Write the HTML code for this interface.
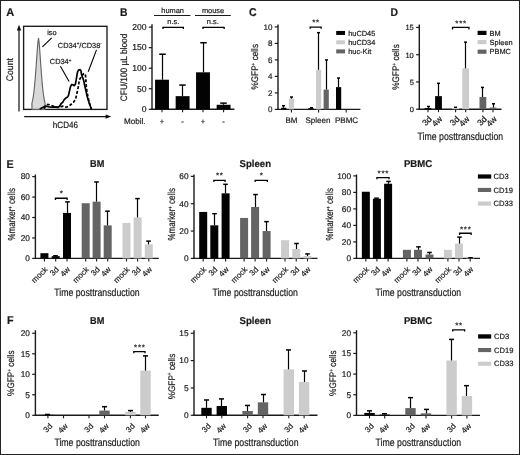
<!DOCTYPE html>
<html><head><meta charset="utf-8"><style>
html,body{margin:0;padding:0;background:#fff;}
svg{display:block;font-family:"Liberation Sans", sans-serif;will-change:transform;-webkit-font-smoothing:antialiased;text-rendering:geometricPrecision;}
text{stroke:#1c1c1c;stroke-width:0.2px;}
</style></head><body>
<svg width="520" height="455" viewBox="0 0 520 455">
<rect x="0" y="0" width="520" height="455" fill="#fff"/>
<text x="6.3" y="15.9" font-size="11.3" text-anchor="start" font-weight="bold" fill="#1c1c1c" textLength="8.0" lengthAdjust="spacingAndGlyphs" >A</text>
<rect x="23.6" y="26.3" width="83.4" height="83.1" fill="none" stroke="#1a1a1a" stroke-width="1.35"/>
<path d="M32.00 109.30 L31.90 103.20 L32.12 102.38 L32.34 101.47 L32.56 100.47 L32.78 99.36 L33.00 98.14 L33.22 96.80 L33.44 95.33 L33.66 93.74 L33.88 92.01 L34.10 90.13 L34.32 88.12 L34.54 85.96 L34.76 83.65 L34.98 81.20 L35.20 78.62 L35.42 75.89 L35.64 73.05 L35.86 70.10 L36.08 67.06 L36.30 63.94 L36.52 60.79 L36.74 57.62 L36.96 54.47 L37.18 51.39 L37.40 48.43 L37.62 45.66 L37.84 43.13 L38.06 40.97 L38.28 39.29 L38.50 38.40 L38.72 39.29 L38.94 40.97 L39.16 43.13 L39.38 45.66 L39.60 48.43 L39.82 51.39 L40.04 54.47 L40.26 57.62 L40.48 60.79 L40.70 63.94 L40.92 67.06 L41.14 70.10 L41.36 73.05 L41.58 75.89 L41.80 78.62 L42.02 81.20 L42.24 83.65 L42.46 85.96 L42.68 88.12 L42.90 90.13 L43.12 92.01 L43.34 93.74 L43.56 95.33 L43.78 96.80 L44.00 98.14 L44.22 99.36 L44.44 100.47 L44.66 101.47 L44.88 102.38 L45.10 103.20 L45.00 109.30 Z" fill="#d9d9d9" stroke="#666" stroke-width="1.15" stroke-linejoin="round"/>
<path d="M39.7 109.1 L43.7 107.1 L45.8 106.1 L48.5 106.8 L52.5 107.1 L55 106.9 L58.1 107.3 L59.6 106.2 L61.2 103.5 L62.7 102.3 L64.2 99.6 L65.8 98.1 L67.3 97.3 L68.5 95.4 L69.2 92.3 L70.5 86.6 L71.7 84.5 L72.9 84.8 L74.2 85.7 L75.4 84.2 L76.6 77.4 L77.5 72.2 L78.5 70 L80 69.7 L80.9 70.6 L81.5 74.3 L82.5 77.4 L83.7 80.5 L84.6 85 L86 91 L87.3 97 L89.2 103.1 L91.2 108.5 L91.5 109.1" fill="none" stroke="#000" stroke-width="1.7" stroke-linejoin="round"/>
<path d="M44 108.6 L45.1 106.4 L47.8 104.4 L49.8 104.8 L51.2 105.4 L53.8 106.4 L55.9 107.1 L58.6 107.4 L62.7 106.2 L65 107.3 L67.3 106.9 L70.4 105 L73.5 102.3 L75.4 99.6 L76.5 95.4 L77.3 91.5 L78.2 87.2 L79.4 79.8 L81.2 76.8 L83.4 74 L84.6 73.4 L85.5 75.2 L85.8 79.2 L86.2 85.4 L86.7 90 L87.7 95.4 L88.8 100.8 L90.4 106.2 L91.3 108.8" fill="none" stroke="#000" stroke-width="1.7" stroke-dasharray="3 1.8"/>
<line x1="42.4" y1="46.9" x2="51.7" y2="37.9" stroke="#000" stroke-width="1.1" />
<line x1="96.5" y1="49.9" x2="88.2" y2="71.7" stroke="#000" stroke-width="1.1" />
<line x1="60.4" y1="66.3" x2="69.1" y2="81.6" stroke="#000" stroke-width="1.1" />
<text x="47.2" y="35.3" font-size="7.4" text-anchor="start" font-weight="normal" fill="#1c1c1c" >iso</text>
<text x="57.8" y="47.8" font-size="7.4" fill="#1c1c1c">CD34<tspan font-size="4.5" dy="-2.8">+</tspan><tspan dy="2.8">/CD38</tspan><tspan font-size="4.5" dy="-2.8">-</tspan></text>
<text x="49.8" y="64.3" font-size="7.4" fill="#1c1c1c">CD34<tspan font-size="4.5" dy="-2.8">+</tspan></text>
<line x1="19" y1="111.5" x2="19" y2="29" stroke="#222" stroke-width="1.3" />
<path d="M19 24.8 L16.8 30.5 L21.2 30.5 Z" fill="#111"/>
<line x1="24.2" y1="116.6" x2="107" y2="116.6" stroke="#111" stroke-width="1.25" />
<path d="M111.3 116.6 L105.6 114.4 L105.6 118.8 Z" fill="#111"/>
<text transform="translate(13.3 69.7) rotate(-90)" font-size="9.6" text-anchor="middle" fill="#1c1c1c" textLength="23.3" lengthAdjust="spacingAndGlyphs" >Count</text>
<text x="52.8" y="128.3" font-size="9.0" text-anchor="start" font-weight="normal" fill="#1c1c1c" textLength="25.2" lengthAdjust="spacingAndGlyphs" >hCD46</text>
<text x="120" y="15.9" font-size="11.3" text-anchor="start" font-weight="bold" fill="#1c1c1c" textLength="7.5" lengthAdjust="spacingAndGlyphs" >B</text>
<line x1="152" y1="24.3" x2="152" y2="109.89999999999999" stroke="#1a1a1a" stroke-width="1.4" />
<line x1="148.8" y1="109.3" x2="152" y2="109.3" stroke="#1a1a1a" stroke-width="1.2" />
<text x="146.5" y="112.1" font-size="8.6" text-anchor="end" font-weight="normal" fill="#1c1c1c" >0</text>
<line x1="148.8" y1="88.75" x2="152" y2="88.75" stroke="#1a1a1a" stroke-width="1.2" />
<text x="146.5" y="91.55" font-size="8.6" text-anchor="end" font-weight="normal" fill="#1c1c1c" >50</text>
<line x1="148.8" y1="68.2" x2="152" y2="68.2" stroke="#1a1a1a" stroke-width="1.2" />
<text x="146.5" y="71.0" font-size="8.6" text-anchor="end" font-weight="normal" fill="#1c1c1c" >100</text>
<line x1="148.8" y1="47.65" x2="152" y2="47.65" stroke="#1a1a1a" stroke-width="1.2" />
<text x="146.5" y="50.449999999999996" font-size="8.6" text-anchor="end" font-weight="normal" fill="#1c1c1c" >150</text>
<line x1="148.8" y1="27.10000000000001" x2="152" y2="27.10000000000001" stroke="#1a1a1a" stroke-width="1.2" />
<text x="146.5" y="29.90000000000001" font-size="8.6" text-anchor="end" font-weight="normal" fill="#1c1c1c" >200</text>
<line x1="151.3" y1="109.3" x2="234.4" y2="109.3" stroke="#1a1a1a" stroke-width="1.4" />
<line x1="162" y1="109.3" x2="162" y2="112.3" stroke="#1a1a1a" stroke-width="1.1" />
<line x1="182.6" y1="109.3" x2="182.6" y2="112.3" stroke="#1a1a1a" stroke-width="1.1" />
<line x1="203" y1="109.3" x2="203" y2="112.3" stroke="#1a1a1a" stroke-width="1.1" />
<line x1="223.6" y1="109.3" x2="223.6" y2="112.3" stroke="#1a1a1a" stroke-width="1.1" />
<rect x="155.05" y="79.71" width="13.90" height="29.59" fill="#030303"/>
<line x1="162.5" y1="79.708" x2="162.5" y2="54.226" stroke="#030303" stroke-width="1.2" />
<line x1="159.25" y1="54.226" x2="165.75" y2="54.226" stroke="#030303" stroke-width="1.5" />
<rect x="175.65" y="96.15" width="13.90" height="13.15" fill="#030303"/>
<line x1="182.5" y1="96.148" x2="182.5" y2="85.051" stroke="#030303" stroke-width="1.2" />
<line x1="179.25" y1="85.051" x2="185.75" y2="85.051" stroke="#030303" stroke-width="1.5" />
<rect x="196.05" y="72.31" width="13.90" height="36.99" fill="#030303"/>
<line x1="203.5" y1="72.31" x2="203.5" y2="42.718" stroke="#030303" stroke-width="1.2" />
<line x1="200.25" y1="42.718" x2="206.75" y2="42.718" stroke="#030303" stroke-width="1.5" />
<rect x="216.65" y="104.78" width="13.90" height="4.52" fill="#030303"/>
<line x1="223.5" y1="104.779" x2="223.5" y2="103.13499999999999" stroke="#030303" stroke-width="1.2" />
<line x1="220.25" y1="103.13499999999999" x2="226.75" y2="103.13499999999999" stroke="#030303" stroke-width="1.5" />
<line x1="154" y1="15.5" x2="190.4" y2="15.5" stroke="#1a1a1a" stroke-width="1.1" />
<line x1="195" y1="15.5" x2="230.8" y2="15.5" stroke="#1a1a1a" stroke-width="1.1" />
<text x="172.6" y="12.9" font-size="7.4" text-anchor="middle" font-weight="normal" fill="#1c1c1c" >human</text>
<text x="213" y="12.9" font-size="7.4" text-anchor="middle" font-weight="normal" fill="#1c1c1c" >mouse</text>
<text x="173.3" y="23.6" font-size="7.4" text-anchor="middle" font-weight="normal" fill="#1c1c1c" >n.s.</text>
<text x="212.8" y="23.6" font-size="7.4" text-anchor="middle" font-weight="normal" fill="#1c1c1c" >n.s.</text>
<path d="M162.95 29.10 V27.35 H183.35 V29.10" fill="none" stroke="#030303" stroke-width="1.3"/>
<path d="M202.95 29.10 V27.35 H224.15 V29.10" fill="none" stroke="#030303" stroke-width="1.3"/>
<text transform="translate(127.2 67.4) rotate(-90)" font-size="9.4" text-anchor="middle" fill="#1c1c1c" textLength="67.6" lengthAdjust="spacingAndGlyphs" >CFU/100 µL blood</text>
<text x="124" y="124.2" font-size="8.1" text-anchor="start" font-weight="normal" fill="#1c1c1c" >Mobil.</text>
<text x="162" y="124" font-size="7.5" text-anchor="middle" font-weight="normal" fill="#1c1c1c" >+</text>
<text x="182.6" y="124" font-size="7.5" text-anchor="middle" font-weight="normal" fill="#1c1c1c" >-</text>
<text x="203" y="124" font-size="7.5" text-anchor="middle" font-weight="normal" fill="#1c1c1c" >+</text>
<text x="223.6" y="124" font-size="7.5" text-anchor="middle" font-weight="normal" fill="#1c1c1c" >-</text>
<text x="249" y="15.9" font-size="11.3" text-anchor="start" font-weight="bold" fill="#1c1c1c" textLength="7.6" lengthAdjust="spacingAndGlyphs" >C</text>
<line x1="278" y1="24.5" x2="278" y2="110.0" stroke="#1a1a1a" stroke-width="1.4" />
<line x1="274.8" y1="109.4" x2="278" y2="109.4" stroke="#1a1a1a" stroke-width="1.2" />
<text x="272.5" y="112.2" font-size="8" text-anchor="end" font-weight="normal" fill="#1c1c1c" >0</text>
<line x1="274.8" y1="92.9" x2="278" y2="92.9" stroke="#1a1a1a" stroke-width="1.2" />
<text x="272.5" y="95.7" font-size="8" text-anchor="end" font-weight="normal" fill="#1c1c1c" >2</text>
<line x1="274.8" y1="76.4" x2="278" y2="76.4" stroke="#1a1a1a" stroke-width="1.2" />
<text x="272.5" y="79.2" font-size="8" text-anchor="end" font-weight="normal" fill="#1c1c1c" >4</text>
<line x1="274.8" y1="59.900000000000006" x2="278" y2="59.900000000000006" stroke="#1a1a1a" stroke-width="1.2" />
<text x="272.5" y="62.7" font-size="8" text-anchor="end" font-weight="normal" fill="#1c1c1c" >6</text>
<line x1="274.8" y1="43.400000000000006" x2="278" y2="43.400000000000006" stroke="#1a1a1a" stroke-width="1.2" />
<text x="272.5" y="46.2" font-size="8" text-anchor="end" font-weight="normal" fill="#1c1c1c" >8</text>
<line x1="274.8" y1="26.900000000000006" x2="278" y2="26.900000000000006" stroke="#1a1a1a" stroke-width="1.2" />
<text x="272.5" y="29.700000000000006" font-size="8" text-anchor="end" font-weight="normal" fill="#1c1c1c" >10</text>
<line x1="277.3" y1="109.4" x2="360.4" y2="109.4" stroke="#1a1a1a" stroke-width="1.4" />
<line x1="291.4" y1="109.4" x2="291.4" y2="112.4" stroke="#1a1a1a" stroke-width="1.1" />
<line x1="318.6" y1="109.4" x2="318.6" y2="112.4" stroke="#1a1a1a" stroke-width="1.1" />
<line x1="346.2" y1="109.4" x2="346.2" y2="112.4" stroke="#1a1a1a" stroke-width="1.1" />
<rect x="281.20" y="107.75" width="5.20" height="1.65" fill="#030303"/>
<line x1="283.5" y1="107.75" x2="283.5" y2="105.6875" stroke="#030303" stroke-width="1.2" />
<line x1="282.0" y1="105.6875" x2="285.0" y2="105.6875" stroke="#030303" stroke-width="1.5" />
<rect x="288.80" y="98.68" width="5.20" height="10.72" fill="#cccccc"/>
<line x1="291.5" y1="98.67500000000001" x2="291.5" y2="97.025" stroke="#030303" stroke-width="1.2" />
<line x1="290.0" y1="97.025" x2="293.0" y2="97.025" stroke="#030303" stroke-width="1.5" />
<rect x="308.40" y="108.16" width="5.20" height="1.24" fill="#030303"/>
<line x1="311.5" y1="108.16250000000001" x2="311.5" y2="107.75" stroke="#030303" stroke-width="1.2" />
<line x1="310.0" y1="107.75" x2="313.0" y2="107.75" stroke="#030303" stroke-width="1.5" />
<rect x="316.00" y="69.80" width="5.20" height="39.60" fill="#cccccc"/>
<line x1="318.5" y1="69.80000000000001" x2="318.5" y2="32.675" stroke="#030303" stroke-width="1.2" />
<line x1="317.0" y1="32.675" x2="320.0" y2="32.675" stroke="#030303" stroke-width="1.5" />
<rect x="323.60" y="89.60" width="5.20" height="19.80" fill="#646464"/>
<line x1="326.5" y1="89.60000000000001" x2="326.5" y2="59.900000000000006" stroke="#030303" stroke-width="1.2" />
<line x1="325.0" y1="59.900000000000006" x2="328.0" y2="59.900000000000006" stroke="#030303" stroke-width="1.5" />
<rect x="336.00" y="87.12" width="5.20" height="22.28" fill="#030303"/>
<line x1="338.5" y1="87.125" x2="338.5" y2="78.05000000000001" stroke="#030303" stroke-width="1.2" />
<line x1="337.0" y1="78.05000000000001" x2="340.0" y2="78.05000000000001" stroke="#030303" stroke-width="1.5" />
<path d="M310.15 28.80 V27.15 H321.15 V28.80" fill="none" stroke="#030303" stroke-width="1.3"/>
<text x="313.72" y="25.10" font-size="8" text-anchor="middle" fill="#1c1c1c">*</text>
<text x="317.57" y="25.10" font-size="8" text-anchor="middle" fill="#1c1c1c">*</text>
<text transform="translate(257.9 89.55) rotate(-90)" font-size="9.6" fill="#1c1c1c" textLength="45.6" lengthAdjust="spacingAndGlyphs">%GFP<tspan font-size="5.5" dy="-3.2">+</tspan><tspan dy="3.2"> cells</tspan></text>
<text x="285.4" y="123.4" font-size="8" text-anchor="start" font-weight="normal" fill="#1c1c1c" >BM</text>
<text x="305.5" y="123.4" font-size="8" text-anchor="start" font-weight="normal" fill="#1c1c1c" >Spleen</text>
<text x="335" y="123.4" font-size="8" text-anchor="start" font-weight="normal" fill="#1c1c1c" >PBMC</text>
<rect x="336.20" y="30.95" width="8.80" height="4.00" fill="#030303"/>
<text x="348.2" y="35.650000000000006" font-size="7.4" text-anchor="start" font-weight="normal" fill="#1c1c1c" >huCD45</text>
<rect x="336.20" y="40.30" width="8.80" height="4.00" fill="#cccccc"/>
<text x="348.2" y="45.0" font-size="7.4" text-anchor="start" font-weight="normal" fill="#1c1c1c" >huCD34</text>
<rect x="336.20" y="49.40" width="8.80" height="4.00" fill="#646464"/>
<text x="348.2" y="54.1" font-size="7.4" text-anchor="start" font-weight="normal" fill="#1c1c1c" >huc-Kit</text>
<text x="390.6" y="15.9" font-size="11.3" text-anchor="start" font-weight="bold" fill="#1c1c1c" textLength="7.5" lengthAdjust="spacingAndGlyphs" >D</text>
<line x1="419.3" y1="24.5" x2="419.3" y2="109.8" stroke="#1a1a1a" stroke-width="1.4" />
<line x1="416.1" y1="109.2" x2="419.3" y2="109.2" stroke="#1a1a1a" stroke-width="1.2" />
<text x="413.8" y="112.0" font-size="7.5" text-anchor="end" font-weight="normal" fill="#1c1c1c" >0</text>
<line x1="416.1" y1="81.95" x2="419.3" y2="81.95" stroke="#1a1a1a" stroke-width="1.2" />
<text x="413.8" y="84.75" font-size="7.5" text-anchor="end" font-weight="normal" fill="#1c1c1c" >5</text>
<line x1="416.1" y1="54.7" x2="419.3" y2="54.7" stroke="#1a1a1a" stroke-width="1.2" />
<text x="413.8" y="57.5" font-size="7.5" text-anchor="end" font-weight="normal" fill="#1c1c1c" >10</text>
<line x1="416.1" y1="27.450000000000003" x2="419.3" y2="27.450000000000003" stroke="#1a1a1a" stroke-width="1.2" />
<text x="413.8" y="30.250000000000004" font-size="7.5" text-anchor="end" font-weight="normal" fill="#1c1c1c" >15</text>
<line x1="418.6" y1="109.2" x2="501.5" y2="109.2" stroke="#1a1a1a" stroke-width="1.4" />
<line x1="428" y1="109.2" x2="428" y2="112.2" stroke="#1a1a1a" stroke-width="1.1" />
<line x1="438.5" y1="109.2" x2="438.5" y2="112.2" stroke="#1a1a1a" stroke-width="1.1" />
<line x1="455.6" y1="109.2" x2="455.6" y2="112.2" stroke="#1a1a1a" stroke-width="1.1" />
<line x1="465.7" y1="109.2" x2="465.7" y2="112.2" stroke="#1a1a1a" stroke-width="1.1" />
<line x1="482.9" y1="109.2" x2="482.9" y2="112.2" stroke="#1a1a1a" stroke-width="1.1" />
<line x1="493" y1="109.2" x2="493" y2="112.2" stroke="#1a1a1a" stroke-width="1.1" />
<rect x="424.60" y="108.11" width="6.80" height="1.09" fill="#030303"/>
<line x1="428.5" y1="108.11" x2="428.5" y2="106.47500000000001" stroke="#030303" stroke-width="1.2" />
<line x1="427.0" y1="106.47500000000001" x2="430.0" y2="106.47500000000001" stroke="#030303" stroke-width="1.5" />
<rect x="435.10" y="96.12" width="6.80" height="13.08" fill="#030303"/>
<line x1="438.5" y1="96.12" x2="438.5" y2="83.3125" stroke="#030303" stroke-width="1.2" />
<line x1="437.0" y1="83.3125" x2="440.0" y2="83.3125" stroke="#030303" stroke-width="1.5" />
<rect x="452.20" y="107.84" width="6.80" height="1.36" fill="#cccccc"/>
<line x1="455.5" y1="107.8375" x2="455.5" y2="107.2925" stroke="#030303" stroke-width="1.2" />
<line x1="454.0" y1="107.2925" x2="457.0" y2="107.2925" stroke="#030303" stroke-width="1.5" />
<rect x="462.30" y="68.33" width="6.80" height="40.88" fill="#cccccc"/>
<line x1="465.5" y1="68.325" x2="465.5" y2="42.16499999999999" stroke="#030303" stroke-width="1.2" />
<line x1="464.0" y1="42.16499999999999" x2="467.0" y2="42.16499999999999" stroke="#030303" stroke-width="1.5" />
<rect x="479.50" y="96.94" width="6.80" height="12.26" fill="#646464"/>
<line x1="482.5" y1="96.9375" x2="482.5" y2="87.4" stroke="#030303" stroke-width="1.2" />
<line x1="481.0" y1="87.4" x2="484.0" y2="87.4" stroke="#030303" stroke-width="1.5" />
<rect x="489.60" y="107.56" width="6.80" height="1.64" fill="#646464"/>
<line x1="493.5" y1="107.565" x2="493.5" y2="103.75" stroke="#030303" stroke-width="1.2" />
<line x1="492.0" y1="103.75" x2="495.0" y2="103.75" stroke="#030303" stroke-width="1.5" />
<path d="M452.55 29.40 V27.45 H468.95 V29.40" fill="none" stroke="#030303" stroke-width="1.3"/>
<text x="456.90" y="26.10" font-size="8" text-anchor="middle" fill="#1c1c1c">*</text>
<text x="460.75" y="26.10" font-size="8" text-anchor="middle" fill="#1c1c1c">*</text>
<text x="464.60" y="26.10" font-size="8" text-anchor="middle" fill="#1c1c1c">*</text>
<text transform="translate(399.1 89.80) rotate(-90)" font-size="9.6" fill="#1c1c1c" textLength="45.6" lengthAdjust="spacingAndGlyphs">%GFP<tspan font-size="5.5" dy="-3.2">+</tspan><tspan dy="3.2"> cells</tspan></text>
<rect x="477.60" y="30.80" width="8.90" height="4.20" fill="#030303"/>
<text x="489.6" y="35.6" font-size="7.4" text-anchor="start" font-weight="normal" fill="#1c1c1c" >BM</text>
<rect x="477.60" y="40.00" width="8.90" height="4.20" fill="#cccccc"/>
<text x="489.6" y="44.800000000000004" font-size="7.4" text-anchor="start" font-weight="normal" fill="#1c1c1c" >Spleen</text>
<rect x="477.60" y="49.60" width="8.90" height="4.20" fill="#646464"/>
<text x="489.6" y="54.400000000000006" font-size="7.4" text-anchor="start" font-weight="normal" fill="#1c1c1c" >PBMC</text>
<text transform="translate(432.5 119.5) rotate(-45)" font-size="8.6" text-anchor="end" fill="#1c1c1c" >3d</text>
<text transform="translate(443.0 119.5) rotate(-45)" font-size="8.6" text-anchor="end" fill="#1c1c1c" >4w</text>
<text transform="translate(460.1 119.5) rotate(-45)" font-size="8.6" text-anchor="end" fill="#1c1c1c" >3d</text>
<text transform="translate(470.2 119.5) rotate(-45)" font-size="8.6" text-anchor="end" fill="#1c1c1c" >4w</text>
<text transform="translate(487.4 119.5) rotate(-45)" font-size="8.6" text-anchor="end" fill="#1c1c1c" >3d</text>
<text transform="translate(497.5 119.5) rotate(-45)" font-size="8.6" text-anchor="end" fill="#1c1c1c" >4w</text>
<text x="417.6" y="139.6" font-size="10.6" fill="#1c1c1c" textLength="85.5" lengthAdjust="spacingAndGlyphs">Time posttransduction</text>
<text x="6.6" y="167.8" font-size="11.3" text-anchor="start" font-weight="bold" fill="#1c1c1c" textLength="7.2" lengthAdjust="spacingAndGlyphs" >E</text>
<line x1="35.4" y1="174.5" x2="35.4" y2="259.0" stroke="#1a1a1a" stroke-width="1.4" />
<line x1="32.199999999999996" y1="258.4" x2="35.4" y2="258.4" stroke="#1a1a1a" stroke-width="1.2" />
<text x="29.9" y="261.2" font-size="8.3" text-anchor="end" font-weight="normal" fill="#1c1c1c" >0</text>
<line x1="32.199999999999996" y1="237.95999999999998" x2="35.4" y2="237.95999999999998" stroke="#1a1a1a" stroke-width="1.2" />
<text x="29.9" y="240.76" font-size="8.3" text-anchor="end" font-weight="normal" fill="#1c1c1c" >20</text>
<line x1="32.199999999999996" y1="217.51999999999998" x2="35.4" y2="217.51999999999998" stroke="#1a1a1a" stroke-width="1.2" />
<text x="29.9" y="220.32" font-size="8.3" text-anchor="end" font-weight="normal" fill="#1c1c1c" >40</text>
<line x1="32.199999999999996" y1="197.07999999999998" x2="35.4" y2="197.07999999999998" stroke="#1a1a1a" stroke-width="1.2" />
<text x="29.9" y="199.88" font-size="8.3" text-anchor="end" font-weight="normal" fill="#1c1c1c" >60</text>
<line x1="32.199999999999996" y1="176.64" x2="35.4" y2="176.64" stroke="#1a1a1a" stroke-width="1.2" />
<text x="29.9" y="179.44" font-size="8.3" text-anchor="end" font-weight="normal" fill="#1c1c1c" >80</text>
<line x1="34.699999999999996" y1="258.4" x2="158.75" y2="258.4" stroke="#1a1a1a" stroke-width="1.4" />
<line x1="44.4" y1="258.4" x2="44.4" y2="261.4" stroke="#1a1a1a" stroke-width="1.1" />
<line x1="55.7" y1="258.4" x2="55.7" y2="261.4" stroke="#1a1a1a" stroke-width="1.1" />
<line x1="67" y1="258.4" x2="67" y2="261.4" stroke="#1a1a1a" stroke-width="1.1" />
<line x1="85.7" y1="258.4" x2="85.7" y2="261.4" stroke="#1a1a1a" stroke-width="1.1" />
<line x1="96.6" y1="258.4" x2="96.6" y2="261.4" stroke="#1a1a1a" stroke-width="1.1" />
<line x1="107.7" y1="258.4" x2="107.7" y2="261.4" stroke="#1a1a1a" stroke-width="1.1" />
<line x1="126.5" y1="258.4" x2="126.5" y2="261.4" stroke="#1a1a1a" stroke-width="1.1" />
<line x1="137.6" y1="258.4" x2="137.6" y2="261.4" stroke="#1a1a1a" stroke-width="1.1" />
<line x1="148.8" y1="258.4" x2="148.8" y2="261.4" stroke="#1a1a1a" stroke-width="1.1" />
<rect x="40.40" y="253.19" width="8.00" height="5.21" fill="#030303"/>
<rect x="51.70" y="256.15" width="8.00" height="2.25" fill="#030303"/>
<line x1="55.5" y1="256.1516" x2="55.5" y2="255.7428" stroke="#030303" stroke-width="1.2" />
<line x1="53.2" y1="255.7428" x2="57.8" y2="255.7428" stroke="#030303" stroke-width="1.5" />
<rect x="63.00" y="212.92" width="8.00" height="45.48" fill="#030303"/>
<line x1="67.5" y1="212.921" x2="67.5" y2="201.8834" stroke="#030303" stroke-width="1.2" />
<line x1="65.2" y1="201.8834" x2="69.8" y2="201.8834" stroke="#030303" stroke-width="1.5" />
<rect x="81.70" y="203.21" width="8.00" height="55.19" fill="#646464"/>
<rect x="92.60" y="201.68" width="8.00" height="56.72" fill="#646464"/>
<line x1="96.5" y1="201.67899999999997" x2="96.5" y2="181.95439999999996" stroke="#030303" stroke-width="1.2" />
<line x1="94.2" y1="181.95439999999996" x2="98.8" y2="181.95439999999996" stroke="#030303" stroke-width="1.5" />
<rect x="103.70" y="225.39" width="8.00" height="33.01" fill="#646464"/>
<line x1="107.5" y1="225.38939999999997" x2="107.5" y2="211.18359999999996" stroke="#030303" stroke-width="1.2" />
<line x1="105.2" y1="211.18359999999996" x2="109.8" y2="211.18359999999996" stroke="#030303" stroke-width="1.5" />
<rect x="122.50" y="222.94" width="8.00" height="35.46" fill="#cccccc"/>
<rect x="133.60" y="217.42" width="8.00" height="40.98" fill="#cccccc"/>
<line x1="137.5" y1="217.41779999999997" x2="137.5" y2="198.61299999999997" stroke="#030303" stroke-width="1.2" />
<line x1="135.2" y1="198.61299999999997" x2="139.8" y2="198.61299999999997" stroke="#030303" stroke-width="1.5" />
<rect x="144.80" y="244.40" width="8.00" height="14.00" fill="#cccccc"/>
<line x1="148.5" y1="244.3986" x2="148.5" y2="241.1282" stroke="#030303" stroke-width="1.2" />
<line x1="146.2" y1="241.1282" x2="150.8" y2="241.1282" stroke="#030303" stroke-width="1.5" />
<path d="M55.45 199.90 V198.25 H67.15 V199.90" fill="none" stroke="#030303" stroke-width="1.3"/>
<text x="61.30" y="196.10" font-size="8" text-anchor="middle" fill="#1c1c1c">*</text>
<text x="90" y="166.9" font-size="9.9" text-anchor="start" font-weight="bold" fill="#1c1c1c" textLength="14.3" lengthAdjust="spacingAndGlyphs" >BM</text>
<text transform="translate(48.1 270.0) rotate(-45)" font-size="8.0" text-anchor="end" fill="#1c1c1c" >mock</text>
<text transform="translate(59.400000000000006 270.0) rotate(-45)" font-size="8.0" text-anchor="end" fill="#1c1c1c" >3d</text>
<text transform="translate(70.7 270.0) rotate(-45)" font-size="8.0" text-anchor="end" fill="#1c1c1c" >4w</text>
<text transform="translate(89.4 270.0) rotate(-45)" font-size="8.0" text-anchor="end" fill="#1c1c1c" >mock</text>
<text transform="translate(100.3 270.0) rotate(-45)" font-size="8.0" text-anchor="end" fill="#1c1c1c" >3d</text>
<text transform="translate(111.4 270.0) rotate(-45)" font-size="8.0" text-anchor="end" fill="#1c1c1c" >4w</text>
<text transform="translate(130.2 270.0) rotate(-45)" font-size="8.0" text-anchor="end" fill="#1c1c1c" >mock</text>
<text transform="translate(141.29999999999998 270.0) rotate(-45)" font-size="8.0" text-anchor="end" fill="#1c1c1c" >3d</text>
<text transform="translate(152.5 270.0) rotate(-45)" font-size="8.0" text-anchor="end" fill="#1c1c1c" >4w</text>
<text x="54.2" y="296.3" font-size="10.6" fill="#1c1c1c" textLength="85.5" lengthAdjust="spacingAndGlyphs">Time posttransduction</text>
<text transform="translate(14.9 240.45) rotate(-90)" font-size="10.2" fill="#1c1c1c" textLength="52.4" lengthAdjust="spacingAndGlyphs">%marker<tspan font-size="5.5" dy="-3.2">+</tspan><tspan dy="3.2"> cells</tspan></text>
<line x1="194" y1="174.5" x2="194" y2="259.0" stroke="#1a1a1a" stroke-width="1.4" />
<line x1="190.8" y1="258.4" x2="194" y2="258.4" stroke="#1a1a1a" stroke-width="1.2" />
<text x="188.5" y="261.2" font-size="8.3" text-anchor="end" font-weight="normal" fill="#1c1c1c" >0</text>
<line x1="190.8" y1="231.05999999999997" x2="194" y2="231.05999999999997" stroke="#1a1a1a" stroke-width="1.2" />
<text x="188.5" y="233.85999999999999" font-size="8.3" text-anchor="end" font-weight="normal" fill="#1c1c1c" >20</text>
<line x1="190.8" y1="203.71999999999997" x2="194" y2="203.71999999999997" stroke="#1a1a1a" stroke-width="1.2" />
<text x="188.5" y="206.51999999999998" font-size="8.3" text-anchor="end" font-weight="normal" fill="#1c1c1c" >40</text>
<line x1="190.8" y1="176.38" x2="194" y2="176.38" stroke="#1a1a1a" stroke-width="1.2" />
<text x="188.5" y="179.18" font-size="8.3" text-anchor="end" font-weight="normal" fill="#1c1c1c" >60</text>
<line x1="193.3" y1="258.4" x2="317.5" y2="258.4" stroke="#1a1a1a" stroke-width="1.4" />
<line x1="203.2" y1="258.4" x2="203.2" y2="261.4" stroke="#1a1a1a" stroke-width="1.1" />
<line x1="214.3" y1="258.4" x2="214.3" y2="261.4" stroke="#1a1a1a" stroke-width="1.1" />
<line x1="225.6" y1="258.4" x2="225.6" y2="261.4" stroke="#1a1a1a" stroke-width="1.1" />
<line x1="244.1" y1="258.4" x2="244.1" y2="261.4" stroke="#1a1a1a" stroke-width="1.1" />
<line x1="255.1" y1="258.4" x2="255.1" y2="261.4" stroke="#1a1a1a" stroke-width="1.1" />
<line x1="266.6" y1="258.4" x2="266.6" y2="261.4" stroke="#1a1a1a" stroke-width="1.1" />
<line x1="285" y1="258.4" x2="285" y2="261.4" stroke="#1a1a1a" stroke-width="1.1" />
<line x1="296.25" y1="258.4" x2="296.25" y2="261.4" stroke="#1a1a1a" stroke-width="1.1" />
<line x1="307.5" y1="258.4" x2="307.5" y2="261.4" stroke="#1a1a1a" stroke-width="1.1" />
<rect x="199.20" y="211.92" width="8.00" height="46.48" fill="#030303"/>
<rect x="210.30" y="225.32" width="8.00" height="33.08" fill="#030303"/>
<line x1="214.5" y1="225.31859999999998" x2="214.5" y2="213.6991" stroke="#030303" stroke-width="1.2" />
<line x1="212.2" y1="213.6991" x2="216.8" y2="213.6991" stroke="#030303" stroke-width="1.5" />
<rect x="221.60" y="193.33" width="8.00" height="65.07" fill="#030303"/>
<line x1="225.5" y1="193.33079999999998" x2="225.5" y2="184.30859999999996" stroke="#030303" stroke-width="1.2" />
<line x1="223.2" y1="184.30859999999996" x2="227.8" y2="184.30859999999996" stroke="#030303" stroke-width="1.5" />
<rect x="240.10" y="217.94" width="8.00" height="40.46" fill="#646464"/>
<rect x="251.10" y="207.00" width="8.00" height="51.40" fill="#646464"/>
<line x1="255.5" y1="207.00079999999997" x2="255.5" y2="194.56109999999998" stroke="#030303" stroke-width="1.2" />
<line x1="253.2" y1="194.56109999999998" x2="257.8" y2="194.56109999999998" stroke="#030303" stroke-width="1.5" />
<rect x="262.60" y="231.06" width="8.00" height="27.34" fill="#646464"/>
<line x1="266.5" y1="231.05999999999997" x2="266.5" y2="221.62769999999998" stroke="#030303" stroke-width="1.2" />
<line x1="264.2" y1="221.62769999999998" x2="268.8" y2="221.62769999999998" stroke="#030303" stroke-width="1.5" />
<rect x="281.00" y="240.22" width="8.00" height="18.18" fill="#cccccc"/>
<rect x="292.25" y="248.97" width="8.00" height="9.43" fill="#cccccc"/>
<line x1="296.5" y1="248.96769999999998" x2="296.5" y2="243.4997" stroke="#030303" stroke-width="1.2" />
<line x1="294.2" y1="243.4997" x2="298.8" y2="243.4997" stroke="#030303" stroke-width="1.5" />
<rect x="303.50" y="255.94" width="8.00" height="2.46" fill="#cccccc"/>
<line x1="307.5" y1="255.93939999999998" x2="307.5" y2="253.88889999999998" stroke="#030303" stroke-width="1.2" />
<line x1="305.2" y1="253.88889999999998" x2="309.8" y2="253.88889999999998" stroke="#030303" stroke-width="1.5" />
<path d="M213.85 182.00 V180.35 H225.15 V182.00" fill="none" stroke="#030303" stroke-width="1.3"/>
<text x="217.57" y="178.00" font-size="8" text-anchor="middle" fill="#1c1c1c">*</text>
<text x="221.43" y="178.00" font-size="8" text-anchor="middle" fill="#1c1c1c">*</text>
<path d="M255.15 182.00 V180.35 H267.35 V182.00" fill="none" stroke="#030303" stroke-width="1.3"/>
<text x="261.25" y="178.00" font-size="8" text-anchor="middle" fill="#1c1c1c">*</text>
<text x="239.6" y="166.9" font-size="9.9" text-anchor="start" font-weight="bold" fill="#1c1c1c" textLength="31.4" lengthAdjust="spacingAndGlyphs" >Spleen</text>
<text transform="translate(206.89999999999998 270.0) rotate(-45)" font-size="8.0" text-anchor="end" fill="#1c1c1c" >mock</text>
<text transform="translate(218.0 270.0) rotate(-45)" font-size="8.0" text-anchor="end" fill="#1c1c1c" >3d</text>
<text transform="translate(229.29999999999998 270.0) rotate(-45)" font-size="8.0" text-anchor="end" fill="#1c1c1c" >4w</text>
<text transform="translate(247.79999999999998 270.0) rotate(-45)" font-size="8.0" text-anchor="end" fill="#1c1c1c" >mock</text>
<text transform="translate(258.8 270.0) rotate(-45)" font-size="8.0" text-anchor="end" fill="#1c1c1c" >3d</text>
<text transform="translate(270.3 270.0) rotate(-45)" font-size="8.0" text-anchor="end" fill="#1c1c1c" >4w</text>
<text transform="translate(288.7 270.0) rotate(-45)" font-size="8.0" text-anchor="end" fill="#1c1c1c" >mock</text>
<text transform="translate(299.95 270.0) rotate(-45)" font-size="8.0" text-anchor="end" fill="#1c1c1c" >3d</text>
<text transform="translate(311.2 270.0) rotate(-45)" font-size="8.0" text-anchor="end" fill="#1c1c1c" >4w</text>
<text x="212.4" y="296.3" font-size="10.6" fill="#1c1c1c" textLength="85.5" lengthAdjust="spacingAndGlyphs">Time posttransduction</text>
<text transform="translate(174.9 240.45) rotate(-90)" font-size="10.2" fill="#1c1c1c" textLength="52.4" lengthAdjust="spacingAndGlyphs">%marker<tspan font-size="5.5" dy="-3.2">+</tspan><tspan dy="3.2"> cells</tspan></text>
<line x1="356.5" y1="174.5" x2="356.5" y2="259.0" stroke="#1a1a1a" stroke-width="1.4" />
<line x1="353.3" y1="258.4" x2="356.5" y2="258.4" stroke="#1a1a1a" stroke-width="1.2" />
<text x="351.0" y="261.2" font-size="8.3" text-anchor="end" font-weight="normal" fill="#1c1c1c" >0</text>
<line x1="353.3" y1="241.89999999999998" x2="356.5" y2="241.89999999999998" stroke="#1a1a1a" stroke-width="1.2" />
<text x="351.0" y="244.7" font-size="8.3" text-anchor="end" font-weight="normal" fill="#1c1c1c" >20</text>
<line x1="353.3" y1="225.39999999999998" x2="356.5" y2="225.39999999999998" stroke="#1a1a1a" stroke-width="1.2" />
<text x="351.0" y="228.2" font-size="8.3" text-anchor="end" font-weight="normal" fill="#1c1c1c" >40</text>
<line x1="353.3" y1="208.89999999999998" x2="356.5" y2="208.89999999999998" stroke="#1a1a1a" stroke-width="1.2" />
<text x="351.0" y="211.7" font-size="8.3" text-anchor="end" font-weight="normal" fill="#1c1c1c" >60</text>
<line x1="353.3" y1="192.39999999999998" x2="356.5" y2="192.39999999999998" stroke="#1a1a1a" stroke-width="1.2" />
<text x="351.0" y="195.2" font-size="8.3" text-anchor="end" font-weight="normal" fill="#1c1c1c" >80</text>
<line x1="353.3" y1="175.89999999999998" x2="356.5" y2="175.89999999999998" stroke="#1a1a1a" stroke-width="1.2" />
<text x="351.0" y="178.7" font-size="8.3" text-anchor="end" font-weight="normal" fill="#1c1c1c" >100</text>
<line x1="355.8" y1="258.4" x2="480" y2="258.4" stroke="#1a1a1a" stroke-width="1.4" />
<line x1="365.85" y1="258.4" x2="365.85" y2="261.4" stroke="#1a1a1a" stroke-width="1.1" />
<line x1="376.9" y1="258.4" x2="376.9" y2="261.4" stroke="#1a1a1a" stroke-width="1.1" />
<line x1="388.1" y1="258.4" x2="388.1" y2="261.4" stroke="#1a1a1a" stroke-width="1.1" />
<line x1="406.9" y1="258.4" x2="406.9" y2="261.4" stroke="#1a1a1a" stroke-width="1.1" />
<line x1="418" y1="258.4" x2="418" y2="261.4" stroke="#1a1a1a" stroke-width="1.1" />
<line x1="429.5" y1="258.4" x2="429.5" y2="261.4" stroke="#1a1a1a" stroke-width="1.1" />
<line x1="447.9" y1="258.4" x2="447.9" y2="261.4" stroke="#1a1a1a" stroke-width="1.1" />
<line x1="459" y1="258.4" x2="459" y2="261.4" stroke="#1a1a1a" stroke-width="1.1" />
<line x1="470.2" y1="258.4" x2="470.2" y2="261.4" stroke="#1a1a1a" stroke-width="1.1" />
<rect x="361.85" y="191.74" width="8.00" height="66.66" fill="#030303"/>
<rect x="372.90" y="198.75" width="8.00" height="59.65" fill="#030303"/>
<line x1="376.5" y1="198.7525" x2="376.5" y2="198.17499999999998" stroke="#030303" stroke-width="1.2" />
<line x1="374.2" y1="198.17499999999998" x2="378.8" y2="198.17499999999998" stroke="#030303" stroke-width="1.5" />
<rect x="384.10" y="183.74" width="8.00" height="74.66" fill="#030303"/>
<line x1="388.5" y1="183.73749999999998" x2="388.5" y2="181.42749999999998" stroke="#030303" stroke-width="1.2" />
<line x1="386.2" y1="181.42749999999998" x2="390.8" y2="181.42749999999998" stroke="#030303" stroke-width="1.5" />
<rect x="402.90" y="249.82" width="8.00" height="8.58" fill="#646464"/>
<rect x="414.00" y="249.82" width="8.00" height="8.58" fill="#646464"/>
<line x1="418.5" y1="249.81999999999996" x2="418.5" y2="246.84999999999997" stroke="#030303" stroke-width="1.2" />
<line x1="416.2" y1="246.84999999999997" x2="420.8" y2="246.84999999999997" stroke="#030303" stroke-width="1.5" />
<rect x="425.50" y="254.52" width="8.00" height="3.88" fill="#646464"/>
<line x1="429.5" y1="254.52249999999998" x2="429.5" y2="252.45999999999998" stroke="#030303" stroke-width="1.2" />
<line x1="427.2" y1="252.45999999999998" x2="431.8" y2="252.45999999999998" stroke="#030303" stroke-width="1.5" />
<rect x="443.90" y="249.82" width="8.00" height="8.58" fill="#cccccc"/>
<rect x="455.00" y="243.63" width="8.00" height="14.77" fill="#cccccc"/>
<line x1="459.5" y1="243.6325" x2="459.5" y2="237.11499999999998" stroke="#030303" stroke-width="1.2" />
<line x1="457.2" y1="237.11499999999998" x2="461.8" y2="237.11499999999998" stroke="#030303" stroke-width="1.5" />
<rect x="466.20" y="257.99" width="8.00" height="0.41" fill="#cccccc"/>
<line x1="470.5" y1="257.98749999999995" x2="470.5" y2="257.73999999999995" stroke="#030303" stroke-width="1.2" />
<line x1="468.2" y1="257.73999999999995" x2="472.8" y2="257.73999999999995" stroke="#030303" stroke-width="1.5" />
<path d="M376.90 179.30 V177.65 H389.05 V179.30" fill="none" stroke="#030303" stroke-width="1.3"/>
<text x="379.12" y="175.80" font-size="8" text-anchor="middle" fill="#1c1c1c">*</text>
<text x="382.98" y="175.80" font-size="8" text-anchor="middle" fill="#1c1c1c">*</text>
<text x="386.83" y="175.80" font-size="8" text-anchor="middle" fill="#1c1c1c">*</text>
<path d="M459.55 234.90 V233.25 H471.15 V234.90" fill="none" stroke="#030303" stroke-width="1.3"/>
<text x="461.50" y="231.50" font-size="8" text-anchor="middle" fill="#1c1c1c">*</text>
<text x="465.35" y="231.50" font-size="8" text-anchor="middle" fill="#1c1c1c">*</text>
<text x="469.20" y="231.50" font-size="8" text-anchor="middle" fill="#1c1c1c">*</text>
<text x="404" y="166.9" font-size="9.9" text-anchor="start" font-weight="bold" fill="#1c1c1c" textLength="28.1" lengthAdjust="spacingAndGlyphs" >PBMC</text>
<text transform="translate(369.55 270.0) rotate(-45)" font-size="8.0" text-anchor="end" fill="#1c1c1c" >mock</text>
<text transform="translate(380.59999999999997 270.0) rotate(-45)" font-size="8.0" text-anchor="end" fill="#1c1c1c" >3d</text>
<text transform="translate(391.8 270.0) rotate(-45)" font-size="8.0" text-anchor="end" fill="#1c1c1c" >4w</text>
<text transform="translate(410.59999999999997 270.0) rotate(-45)" font-size="8.0" text-anchor="end" fill="#1c1c1c" >mock</text>
<text transform="translate(421.7 270.0) rotate(-45)" font-size="8.0" text-anchor="end" fill="#1c1c1c" >3d</text>
<text transform="translate(433.2 270.0) rotate(-45)" font-size="8.0" text-anchor="end" fill="#1c1c1c" >4w</text>
<text transform="translate(451.59999999999997 270.0) rotate(-45)" font-size="8.0" text-anchor="end" fill="#1c1c1c" >mock</text>
<text transform="translate(462.7 270.0) rotate(-45)" font-size="8.0" text-anchor="end" fill="#1c1c1c" >3d</text>
<text transform="translate(473.9 270.0) rotate(-45)" font-size="8.0" text-anchor="end" fill="#1c1c1c" >4w</text>
<text x="375.6" y="296.3" font-size="10.6" fill="#1c1c1c" textLength="85.5" lengthAdjust="spacingAndGlyphs">Time posttransduction</text>
<text transform="translate(332.9 240.45) rotate(-90)" font-size="10.2" fill="#1c1c1c" textLength="52.4" lengthAdjust="spacingAndGlyphs">%marker<tspan font-size="5.5" dy="-3.2">+</tspan><tspan dy="3.2"> cells</tspan></text>
<rect x="477.90" y="174.40" width="13.30" height="4.20" fill="#030303"/>
<text x="493.6" y="179.2" font-size="7.6" text-anchor="start" font-weight="normal" fill="#1c1c1c" >CD3</text>
<rect x="477.90" y="187.90" width="13.30" height="4.10" fill="#646464"/>
<text x="493.6" y="192.64999999999998" font-size="7.6" text-anchor="start" font-weight="normal" fill="#1c1c1c" >CD19</text>
<rect x="477.90" y="201.50" width="13.30" height="4.20" fill="#cccccc"/>
<text x="493.6" y="206.29999999999998" font-size="7.6" text-anchor="start" font-weight="normal" fill="#1c1c1c" >CD33</text>
<text x="7" y="324.3" font-size="11.3" text-anchor="start" font-weight="bold" fill="#1c1c1c" textLength="6.6" lengthAdjust="spacingAndGlyphs" >F</text>
<line x1="35.4" y1="330.2" x2="35.4" y2="415.90000000000003" stroke="#1a1a1a" stroke-width="1.4" />
<line x1="32.199999999999996" y1="415.3" x2="35.4" y2="415.3" stroke="#1a1a1a" stroke-width="1.2" />
<text x="29.9" y="418.1" font-size="8.3" text-anchor="end" font-weight="normal" fill="#1c1c1c" >0</text>
<line x1="32.199999999999996" y1="394.8" x2="35.4" y2="394.8" stroke="#1a1a1a" stroke-width="1.2" />
<text x="29.9" y="397.6" font-size="8.3" text-anchor="end" font-weight="normal" fill="#1c1c1c" >5</text>
<line x1="32.199999999999996" y1="374.3" x2="35.4" y2="374.3" stroke="#1a1a1a" stroke-width="1.2" />
<text x="29.9" y="377.1" font-size="8.3" text-anchor="end" font-weight="normal" fill="#1c1c1c" >10</text>
<line x1="32.199999999999996" y1="353.8" x2="35.4" y2="353.8" stroke="#1a1a1a" stroke-width="1.2" />
<text x="29.9" y="356.6" font-size="8.3" text-anchor="end" font-weight="normal" fill="#1c1c1c" >15</text>
<line x1="32.199999999999996" y1="333.3" x2="35.4" y2="333.3" stroke="#1a1a1a" stroke-width="1.2" />
<text x="29.9" y="336.1" font-size="8.3" text-anchor="end" font-weight="normal" fill="#1c1c1c" >20</text>
<line x1="34.699999999999996" y1="415.3" x2="158.75" y2="415.3" stroke="#1a1a1a" stroke-width="1.4" />
<line x1="47.9" y1="415.3" x2="47.9" y2="418.3" stroke="#1a1a1a" stroke-width="1.1" />
<line x1="63.5" y1="415.3" x2="63.5" y2="418.3" stroke="#1a1a1a" stroke-width="1.1" />
<line x1="89" y1="415.3" x2="89" y2="418.3" stroke="#1a1a1a" stroke-width="1.1" />
<line x1="104.5" y1="415.3" x2="104.5" y2="418.3" stroke="#1a1a1a" stroke-width="1.1" />
<line x1="130.4" y1="415.3" x2="130.4" y2="418.3" stroke="#1a1a1a" stroke-width="1.1" />
<line x1="145.5" y1="415.3" x2="145.5" y2="418.3" stroke="#1a1a1a" stroke-width="1.1" />
<rect x="42.70" y="414.89" width="10.40" height="0.41" fill="#030303"/>
<line x1="47.5" y1="414.89" x2="47.5" y2="414.48" stroke="#030303" stroke-width="1.2" />
<line x1="45.0" y1="414.48" x2="50.0" y2="414.48" stroke="#030303" stroke-width="1.5" />
<rect x="99.30" y="410.59" width="10.40" height="4.71" fill="#646464"/>
<line x1="104.5" y1="410.58500000000004" x2="104.5" y2="406.69" stroke="#030303" stroke-width="1.2" />
<line x1="102.0" y1="406.69" x2="107.0" y2="406.69" stroke="#030303" stroke-width="1.5" />
<rect x="125.20" y="411.81" width="10.40" height="3.48" fill="#cccccc"/>
<line x1="130.5" y1="411.815" x2="130.5" y2="410.58500000000004" stroke="#030303" stroke-width="1.2" />
<line x1="128.0" y1="410.58500000000004" x2="133.0" y2="410.58500000000004" stroke="#030303" stroke-width="1.5" />
<rect x="140.30" y="370.61" width="10.40" height="44.69" fill="#cccccc"/>
<line x1="145.5" y1="370.61" x2="145.5" y2="355.85" stroke="#030303" stroke-width="1.2" />
<line x1="143.0" y1="355.85" x2="148.0" y2="355.85" stroke="#030303" stroke-width="1.5" />
<path d="M133.85 353.30 V351.55 H145.05 V353.30" fill="none" stroke="#030303" stroke-width="1.3"/>
<text x="135.60" y="349.50" font-size="8" text-anchor="middle" fill="#1c1c1c">*</text>
<text x="139.45" y="349.50" font-size="8" text-anchor="middle" fill="#1c1c1c">*</text>
<text x="143.30" y="349.50" font-size="8" text-anchor="middle" fill="#1c1c1c">*</text>
<text x="90" y="324.2" font-size="9.9" text-anchor="start" font-weight="bold" fill="#1c1c1c" textLength="14.3" lengthAdjust="spacingAndGlyphs" >BM</text>
<text transform="translate(52.8 426.6) rotate(-45)" font-size="8.0" text-anchor="end" fill="#1c1c1c" >3d</text>
<text transform="translate(68.4 426.6) rotate(-45)" font-size="8.0" text-anchor="end" fill="#1c1c1c" >4w</text>
<text transform="translate(93.9 426.6) rotate(-45)" font-size="8.0" text-anchor="end" fill="#1c1c1c" >3d</text>
<text transform="translate(109.4 426.6) rotate(-45)" font-size="8.0" text-anchor="end" fill="#1c1c1c" >4w</text>
<text transform="translate(135.3 426.6) rotate(-45)" font-size="8.0" text-anchor="end" fill="#1c1c1c" >3d</text>
<text transform="translate(150.4 426.6) rotate(-45)" font-size="8.0" text-anchor="end" fill="#1c1c1c" >4w</text>
<text x="54.4" y="446.3" font-size="10.6" fill="#1c1c1c" textLength="85.5" lengthAdjust="spacingAndGlyphs">Time posttransduction</text>
<text transform="translate(14.4 395.90) rotate(-90)" font-size="9.6" fill="#1c1c1c" textLength="45.6" lengthAdjust="spacingAndGlyphs">%GFP<tspan font-size="5.5" dy="-3.2">+</tspan><tspan dy="3.2"> cells</tspan></text>
<line x1="194" y1="330.2" x2="194" y2="415.90000000000003" stroke="#1a1a1a" stroke-width="1.4" />
<line x1="190.8" y1="415.3" x2="194" y2="415.3" stroke="#1a1a1a" stroke-width="1.2" />
<text x="188.5" y="418.1" font-size="8.3" text-anchor="end" font-weight="normal" fill="#1c1c1c" >0</text>
<line x1="190.8" y1="387.95" x2="194" y2="387.95" stroke="#1a1a1a" stroke-width="1.2" />
<text x="188.5" y="390.75" font-size="8.3" text-anchor="end" font-weight="normal" fill="#1c1c1c" >5</text>
<line x1="190.8" y1="360.6" x2="194" y2="360.6" stroke="#1a1a1a" stroke-width="1.2" />
<text x="188.5" y="363.40000000000003" font-size="8.3" text-anchor="end" font-weight="normal" fill="#1c1c1c" >10</text>
<line x1="190.8" y1="333.25" x2="194" y2="333.25" stroke="#1a1a1a" stroke-width="1.2" />
<text x="188.5" y="336.05" font-size="8.3" text-anchor="end" font-weight="normal" fill="#1c1c1c" >15</text>
<line x1="193.3" y1="415.3" x2="317.5" y2="415.3" stroke="#1a1a1a" stroke-width="1.4" />
<line x1="206.5" y1="415.3" x2="206.5" y2="418.3" stroke="#1a1a1a" stroke-width="1.1" />
<line x1="221.8" y1="415.3" x2="221.8" y2="418.3" stroke="#1a1a1a" stroke-width="1.1" />
<line x1="247.6" y1="415.3" x2="247.6" y2="418.3" stroke="#1a1a1a" stroke-width="1.1" />
<line x1="263" y1="415.3" x2="263" y2="418.3" stroke="#1a1a1a" stroke-width="1.1" />
<line x1="288.8" y1="415.3" x2="288.8" y2="418.3" stroke="#1a1a1a" stroke-width="1.1" />
<line x1="304.1" y1="415.3" x2="304.1" y2="418.3" stroke="#1a1a1a" stroke-width="1.1" />
<rect x="201.30" y="407.81" width="10.40" height="7.49" fill="#030303"/>
<line x1="206.5" y1="407.8061" x2="206.5" y2="399.98400000000004" stroke="#030303" stroke-width="1.2" />
<line x1="204.0" y1="399.98400000000004" x2="209.0" y2="399.98400000000004" stroke="#030303" stroke-width="1.5" />
<rect x="216.60" y="406.00" width="10.40" height="9.30" fill="#030303"/>
<line x1="221.5" y1="406.00100000000003" x2="221.5" y2="398.89" stroke="#030303" stroke-width="1.2" />
<line x1="219.0" y1="398.89" x2="224.0" y2="398.89" stroke="#030303" stroke-width="1.5" />
<rect x="242.40" y="411.03" width="10.40" height="4.27" fill="#646464"/>
<line x1="247.5" y1="411.03340000000003" x2="247.5" y2="405.454" stroke="#030303" stroke-width="1.2" />
<line x1="245.0" y1="405.454" x2="250.0" y2="405.454" stroke="#030303" stroke-width="1.5" />
<rect x="257.80" y="402.34" width="10.40" height="12.96" fill="#646464"/>
<line x1="263.5" y1="402.3361" x2="263.5" y2="394.514" stroke="#030303" stroke-width="1.2" />
<line x1="261.0" y1="394.514" x2="266.0" y2="394.514" stroke="#030303" stroke-width="1.5" />
<rect x="283.60" y="369.35" width="10.40" height="45.95" fill="#cccccc"/>
<line x1="288.5" y1="369.35200000000003" x2="288.5" y2="349.93350000000004" stroke="#030303" stroke-width="1.2" />
<line x1="286.0" y1="349.93350000000004" x2="291.0" y2="349.93350000000004" stroke="#030303" stroke-width="1.5" />
<rect x="298.90" y="381.93" width="10.40" height="33.37" fill="#cccccc"/>
<line x1="304.5" y1="381.933" x2="304.5" y2="370.993" stroke="#030303" stroke-width="1.2" />
<line x1="302.0" y1="370.993" x2="307.0" y2="370.993" stroke="#030303" stroke-width="1.5" />
<text x="239.6" y="324.2" font-size="9.9" text-anchor="start" font-weight="bold" fill="#1c1c1c" textLength="31.4" lengthAdjust="spacingAndGlyphs" >Spleen</text>
<text transform="translate(211.4 426.6) rotate(-45)" font-size="8.0" text-anchor="end" fill="#1c1c1c" >3d</text>
<text transform="translate(226.70000000000002 426.6) rotate(-45)" font-size="8.0" text-anchor="end" fill="#1c1c1c" >4w</text>
<text transform="translate(252.5 426.6) rotate(-45)" font-size="8.0" text-anchor="end" fill="#1c1c1c" >3d</text>
<text transform="translate(267.9 426.6) rotate(-45)" font-size="8.0" text-anchor="end" fill="#1c1c1c" >4w</text>
<text transform="translate(293.7 426.6) rotate(-45)" font-size="8.0" text-anchor="end" fill="#1c1c1c" >3d</text>
<text transform="translate(309.0 426.6) rotate(-45)" font-size="8.0" text-anchor="end" fill="#1c1c1c" >4w</text>
<text x="213" y="446.3" font-size="10.6" fill="#1c1c1c" textLength="85.5" lengthAdjust="spacingAndGlyphs">Time posttransduction</text>
<text transform="translate(174.6 399.30) rotate(-90)" font-size="9.6" fill="#1c1c1c" textLength="45.6" lengthAdjust="spacingAndGlyphs">%GFP<tspan font-size="5.5" dy="-3.2">+</tspan><tspan dy="3.2"> cells</tspan></text>
<line x1="356.5" y1="330.2" x2="356.5" y2="416.0" stroke="#1a1a1a" stroke-width="1.4" />
<line x1="353.3" y1="415.4" x2="356.5" y2="415.4" stroke="#1a1a1a" stroke-width="1.2" />
<text x="351.0" y="418.2" font-size="8.3" text-anchor="end" font-weight="normal" fill="#1c1c1c" >0</text>
<line x1="353.3" y1="394.75" x2="356.5" y2="394.75" stroke="#1a1a1a" stroke-width="1.2" />
<text x="351.0" y="397.55" font-size="8.3" text-anchor="end" font-weight="normal" fill="#1c1c1c" >5</text>
<line x1="353.3" y1="374.09999999999997" x2="356.5" y2="374.09999999999997" stroke="#1a1a1a" stroke-width="1.2" />
<text x="351.0" y="376.9" font-size="8.3" text-anchor="end" font-weight="normal" fill="#1c1c1c" >10</text>
<line x1="353.3" y1="353.45" x2="356.5" y2="353.45" stroke="#1a1a1a" stroke-width="1.2" />
<text x="351.0" y="356.25" font-size="8.3" text-anchor="end" font-weight="normal" fill="#1c1c1c" >15</text>
<line x1="353.3" y1="332.79999999999995" x2="356.5" y2="332.79999999999995" stroke="#1a1a1a" stroke-width="1.2" />
<text x="351.0" y="335.59999999999997" font-size="8.3" text-anchor="end" font-weight="normal" fill="#1c1c1c" >20</text>
<line x1="355.8" y1="415.4" x2="480" y2="415.4" stroke="#1a1a1a" stroke-width="1.4" />
<line x1="369.5" y1="415.4" x2="369.5" y2="418.4" stroke="#1a1a1a" stroke-width="1.1" />
<line x1="384.7" y1="415.4" x2="384.7" y2="418.4" stroke="#1a1a1a" stroke-width="1.1" />
<line x1="410.5" y1="415.4" x2="410.5" y2="418.4" stroke="#1a1a1a" stroke-width="1.1" />
<line x1="426" y1="415.4" x2="426" y2="418.4" stroke="#1a1a1a" stroke-width="1.1" />
<line x1="451.6" y1="415.4" x2="451.6" y2="418.4" stroke="#1a1a1a" stroke-width="1.1" />
<line x1="466.9" y1="415.4" x2="466.9" y2="418.4" stroke="#1a1a1a" stroke-width="1.1" />
<rect x="364.30" y="412.92" width="10.40" height="2.48" fill="#030303"/>
<line x1="369.5" y1="412.92199999999997" x2="369.5" y2="410.85699999999997" stroke="#030303" stroke-width="1.2" />
<line x1="367.0" y1="410.85699999999997" x2="372.0" y2="410.85699999999997" stroke="#030303" stroke-width="1.5" />
<rect x="379.50" y="414.57" width="10.40" height="0.83" fill="#030303"/>
<line x1="384.5" y1="414.57399999999996" x2="384.5" y2="413.748" stroke="#030303" stroke-width="1.2" />
<line x1="382.0" y1="413.748" x2="387.0" y2="413.748" stroke="#030303" stroke-width="1.5" />
<rect x="405.30" y="408.09" width="10.40" height="7.31" fill="#646464"/>
<line x1="410.5" y1="408.0899" x2="410.5" y2="397.64099999999996" stroke="#030303" stroke-width="1.2" />
<line x1="408.0" y1="397.64099999999996" x2="413.0" y2="397.64099999999996" stroke="#030303" stroke-width="1.5" />
<rect x="420.80" y="413.33" width="10.40" height="2.06" fill="#646464"/>
<line x1="426.5" y1="413.335" x2="426.5" y2="409.4115" stroke="#030303" stroke-width="1.2" />
<line x1="424.0" y1="409.4115" x2="429.0" y2="409.4115" stroke="#030303" stroke-width="1.5" />
<rect x="446.40" y="360.47" width="10.40" height="54.93" fill="#cccccc"/>
<line x1="451.5" y1="360.471" x2="451.5" y2="339.408" stroke="#030303" stroke-width="1.2" />
<line x1="449.0" y1="339.408" x2="454.0" y2="339.408" stroke="#030303" stroke-width="1.5" />
<rect x="461.70" y="395.99" width="10.40" height="19.41" fill="#cccccc"/>
<line x1="466.5" y1="395.989" x2="466.5" y2="385.664" stroke="#030303" stroke-width="1.2" />
<line x1="464.0" y1="385.664" x2="469.0" y2="385.664" stroke="#030303" stroke-width="1.5" />
<path d="M452.75 331.60 V329.85 H464.65 V331.60" fill="none" stroke="#030303" stroke-width="1.3"/>
<text x="456.78" y="328.20" font-size="8" text-anchor="middle" fill="#1c1c1c">*</text>
<text x="460.63" y="328.20" font-size="8" text-anchor="middle" fill="#1c1c1c">*</text>
<text x="404" y="324.2" font-size="9.9" text-anchor="start" font-weight="bold" fill="#1c1c1c" textLength="28.1" lengthAdjust="spacingAndGlyphs" >PBMC</text>
<text transform="translate(374.4 426.6) rotate(-45)" font-size="8.0" text-anchor="end" fill="#1c1c1c" >3d</text>
<text transform="translate(389.59999999999997 426.6) rotate(-45)" font-size="8.0" text-anchor="end" fill="#1c1c1c" >4w</text>
<text transform="translate(415.4 426.6) rotate(-45)" font-size="8.0" text-anchor="end" fill="#1c1c1c" >3d</text>
<text transform="translate(430.9 426.6) rotate(-45)" font-size="8.0" text-anchor="end" fill="#1c1c1c" >4w</text>
<text transform="translate(456.5 426.6) rotate(-45)" font-size="8.0" text-anchor="end" fill="#1c1c1c" >3d</text>
<text transform="translate(471.79999999999995 426.6) rotate(-45)" font-size="8.0" text-anchor="end" fill="#1c1c1c" >4w</text>
<text x="375.6" y="446.3" font-size="10.6" fill="#1c1c1c" textLength="85.5" lengthAdjust="spacingAndGlyphs">Time posttransduction</text>
<text transform="translate(336.3 395.90) rotate(-90)" font-size="9.6" fill="#1c1c1c" textLength="45.6" lengthAdjust="spacingAndGlyphs">%GFP<tspan font-size="5.5" dy="-3.2">+</tspan><tspan dy="3.2"> cells</tspan></text>
<rect x="478.10" y="334.30" width="13.10" height="4.30" fill="#030303"/>
<text x="494" y="339.15000000000003" font-size="7.6" text-anchor="start" font-weight="normal" fill="#1c1c1c" >CD3</text>
<rect x="478.10" y="348.00" width="13.10" height="4.10" fill="#646464"/>
<text x="494" y="352.75" font-size="7.6" text-anchor="start" font-weight="normal" fill="#1c1c1c" >CD19</text>
<rect x="478.10" y="361.70" width="13.10" height="4.10" fill="#cccccc"/>
<text x="494" y="366.45" font-size="7.6" text-anchor="start" font-weight="normal" fill="#1c1c1c" >CD33</text>
<rect x="0.5" y="0.5" width="519" height="454" fill="none" stroke="#222" stroke-width="1"/>
</svg>
</body></html>
